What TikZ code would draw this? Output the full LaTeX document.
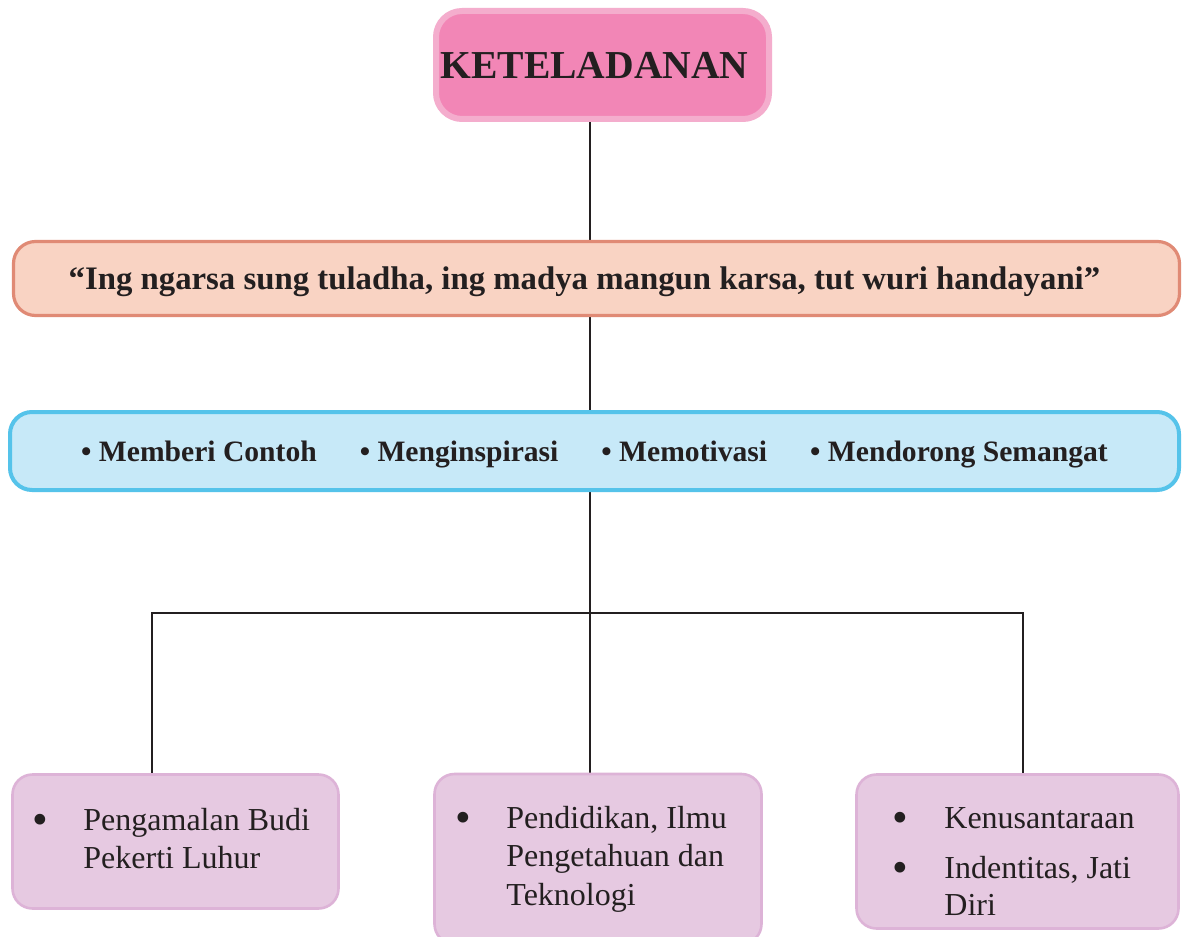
\documentclass[tikz,border=0pt]{standalone}
\usepackage{fontspec}
\setmainfont{Liberation Serif}
\definecolor{ink}{HTML}{231F20}
\definecolor{topfill}{HTML}{F286B6}
\definecolor{topline}{HTML}{F4ADCD}
\definecolor{quotefill}{HTML}{F9D3C3}
\definecolor{quoteline}{HTML}{E08A75}
\definecolor{valfill}{HTML}{C7E9F8}
\definecolor{valline}{HTML}{55C3EA}
\definecolor{leaffill}{HTML}{E6C9E1}
\definecolor{leafline}{HTML}{DDB3D7}
\tikzset{
  box/.style={rectangle, inner sep=0pt, text=ink},
  topbox/.style={box, fill=topfill, draw=topline, line width=3pt, rounded corners=13pt,
    minimum width=166.5pt, minimum height=54pt,
    font=\fontsize{19.8}{22}\selectfont\bfseries},
  quotebox/.style={box, fill=quotefill, draw=quoteline, line width=1.6pt, rounded corners=11pt,
    minimum width=583pt, minimum height=37pt, text depth=0pt,
    font=\fontsize{16.4}{18}\selectfont\bfseries},
  valbox/.style={box, fill=valfill, draw=valline, line width=2pt, rounded corners=11pt,
    minimum width=584.5pt, minimum height=39pt, text depth=0pt,
    font=\fontsize{14.8}{16}\selectfont\bfseries},
  leafbox/.style={box, fill=leaffill, draw=leafline, line width=1.3pt, rounded corners=10pt},
  leaftext/.style={inner sep=0pt, text=ink, anchor=base west, font=\fontsize{16}{19.25}\selectfont},
  link/.style={draw=ink, line width=1pt}
}
\newcommand{\itemgap}{\hspace{21.5pt}}
% larger list bullet for the bottom boxes
\newcommand{\leafdot}{\raisebox{-2.2pt}{\scalebox{1.4}{•}}}
\begin{document}
\begin{tikzpicture}[x=0.5pt, y=-0.5pt]
  \useasboundingbox (0,0) rectangle (1182,936);
  \clip (0,0) rectangle (1182,936);
  \fill[white] (0,0) rectangle (1182,936);

  % spine and branch points of the tree
  \coordinate (spine) at (590,0);
  \coordinate (jl) at (152,613);
  \coordinate (jr) at (1023,613);

  % box outlines used as connector targets
  \node[topbox, draw=none, fill=none] (top) at (602.5,65) {};
  \node[quotebox, draw=none, fill=none] (quote) at (596.5,278.5) {};
  \node[valbox, draw=none, fill=none] (values) at (594.5,451) {};
  \node[leafbox, draw=none, fill=none, minimum width=163pt, minimum height=67pt] (b1) at (175.5,841.5) {};
  \node[leafbox, draw=none, fill=none, minimum width=163.5pt, minimum height=85pt] (b2) at (598,859) {};
  \node[leafbox, draw=none, fill=none, minimum width=161pt, minimum height=77pt] (b3) at (1017.5,851.5) {};

  % connectors (drawn first so the boxes sit on top)
  \draw[link] (top.south -| spine) -- (quote.north -| spine);
  \draw[link] (quote.south -| spine) -- (values.north -| spine);
  \draw[link] (values.south -| spine) -- (b2.north -| spine);
  \draw[link] (jl |- b1.north) -- (jl) -- (jr) -- (jr |- b3.north);

  % boxes
  \node[topbox] (toptext) at (top) {\hspace*{-8pt}KETELADANAN};
  \node[quotebox] (quotetext) at (quote) {\hspace*{-12pt}“Ing ngarsa sung tuladha, ing madya mangun karsa, tut wuri handayani”};
  \node[valbox] (valtext) at (values) {•~Memberi Contoh\itemgap•~Menginspirasi\itemgap•~Memotivasi\itemgap•~Mendorong Semangat};
  \node[leafbox, minimum width=163pt, minimum height=67pt] (b1face) at (b1) {};
  \node[leafbox, minimum width=163.5pt, minimum height=85pt] (b2face) at (b2) {};
  \node[leafbox, minimum width=161pt, minimum height=77pt] (b3face) at (b3) {};

  % texts of the bottom boxes, placed by their first baseline
  \node[leaftext] (t1) at (32,830) {\begin{tabular}[t]{@{}p{25.5pt}@{}l@{}}
    \leafdot & Pengamalan Budi\\
    & Pekerti Luhur
  \end{tabular}};
  \node[leaftext] (t2) at (455,828) {\begin{tabular}[t]{@{}p{25.5pt}@{}l@{}}
    \leafdot & Pendidikan, Ilmu\\
    & Pengetahuan dan\\
    & Teknologi
  \end{tabular}};
  \node[leaftext, font=\fontsize{16}{18.5}\selectfont] (t3) at (892,828) {\begin{tabular}[t]{@{}p{26pt}@{}l@{}}
    \leafdot & Kenusantaraan\\[6.5pt]
    \leafdot & Indentitas, Jati\\
    & Diri
  \end{tabular}};
\end{tikzpicture}
\end{document}
